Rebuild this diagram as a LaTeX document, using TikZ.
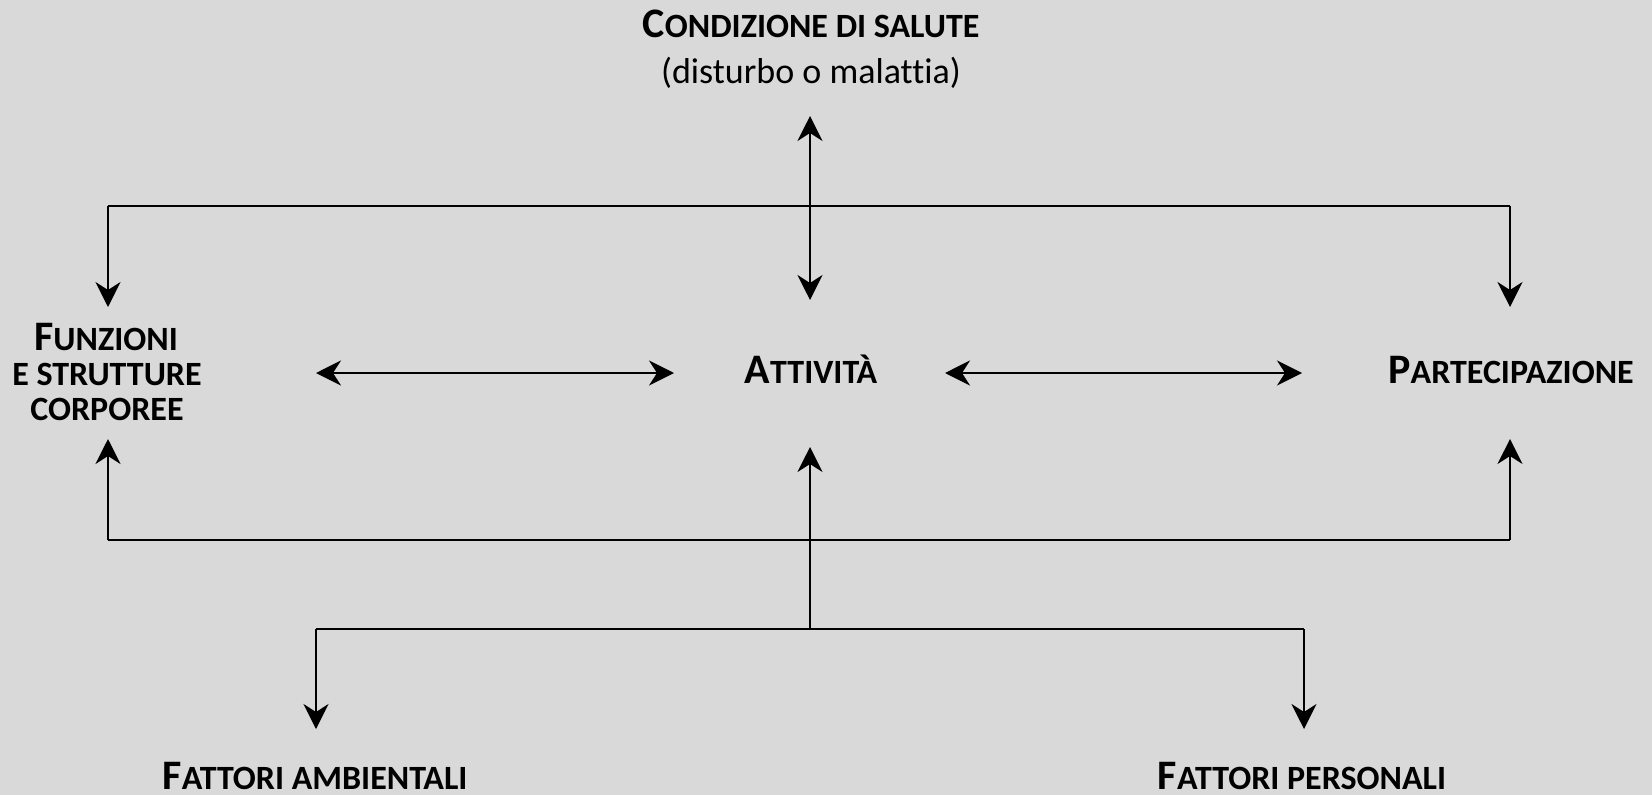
\documentclass[tikz,border=0pt]{standalone}
\usepackage{fontspec}
\setmainfont{Carlito}[Ligatures={NoCommon}]
\usetikzlibrary{arrows.meta}
\definecolor{bg}{HTML}{D9D9D9}
\newcommand{\scbig}[1]{{\fontsize{42}{42}\selectfont #1}}
\newcommand{\scsmall}[1]{{\fontsize{34}{34}\selectfont #1}}
\tikzset{
  lbl/.style={inner sep=0pt, anchor=base, font=\bfseries},
  plain/.style={inner sep=0pt, anchor=base, font=\fontsize{36}{36}\selectfont},
  conn/.style={line width=2pt, -{Stealth[length=25pt, width=25pt, inset=8pt]}},
  dconn/.style={line width=2pt, {Stealth[length=25pt, width=25pt, inset=8pt]}-{Stealth[length=25pt, width=25pt, inset=8pt]}},
  wire/.style={line width=2pt}
}
\begin{document}
\begin{tikzpicture}[x=1pt, y=-1pt]
\fill[bg] (0,0) rectangle (1652,795);
\useasboundingbox (0,0) rectangle (1652,795);
% labels
\node[lbl] (cond) at (811,37) {\scbig{C}\scsmall{ONDIZIONE DI SALUTE}};
\node[plain] (cond2) at (811,83) {(disturbo o malattia)};
\node[lbl] (funz1) at (106,350) {\scbig{F}\scsmall{UNZIONI}};
\node[lbl] (funz2) at (107,385) {\scsmall{E STRUTTURE}};
\node[lbl] (funz3) at (107,420) {\scsmall{CORPOREE}};
\node[lbl] (att) at (811,383) {\scbig{A}\scsmall{TTIVITÀ}};
\node[lbl] (part) at (1511,383) {\scbig{P}\scsmall{ARTECIPAZIONE}};
\node[lbl] (amb) at (315,789) {\scbig{F}\scsmall{ATTORI AMBIENTALI}};
\node[lbl] (pers) at (1302,789) {\scbig{F}\scsmall{ATTORI PERSONALI}};
% coordinates
\coordinate (cTop) at (810,116);
\coordinate (cBot) at (810,300);
\coordinate (hubT) at (810,206);
\coordinate (tL) at (108,206);
\coordinate (tR) at (1510,206);
\coordinate (tLend) at (108,307);
\coordinate (tRend) at (1510,307);
\coordinate (hL1) at (316,373);
\coordinate (hL2) at (674,373);
\coordinate (hR1) at (945,373);
\coordinate (hR2) at (1302,373);
\coordinate (bL) at (108,540);
\coordinate (bR) at (1510,540);
\coordinate (bLend) at (108,439);
\coordinate (bRend) at (1510,439);
\coordinate (mid) at (810,629);
\coordinate (midEnd) at (810,447);
\coordinate (lowL) at (316,629);
\coordinate (lowR) at (1304,629);
\coordinate (lowLend) at (316,729);
\coordinate (lowRend) at (1304,729);
% connectors
\draw[dconn] (cBot) -- (cTop);
\draw[wire] (tL) -- (tR);
\draw[conn] (tL) -- (tLend);
\draw[conn] (tR) -- (tRend);
\draw[dconn] (hL1) -- (hL2);
\draw[dconn] (hR1) -- (hR2);
\draw[wire] (bL) -- (bR);
\draw[conn] (bL) -- (bLend);
\draw[conn] (bR) -- (bRend);
\draw[conn] (mid) -- (midEnd);
\draw[wire] (lowL) -- (lowR);
\draw[conn] (lowL) -- (lowLend);
\draw[conn] (lowR) -- (lowRend);
\end{tikzpicture}
\end{document}
